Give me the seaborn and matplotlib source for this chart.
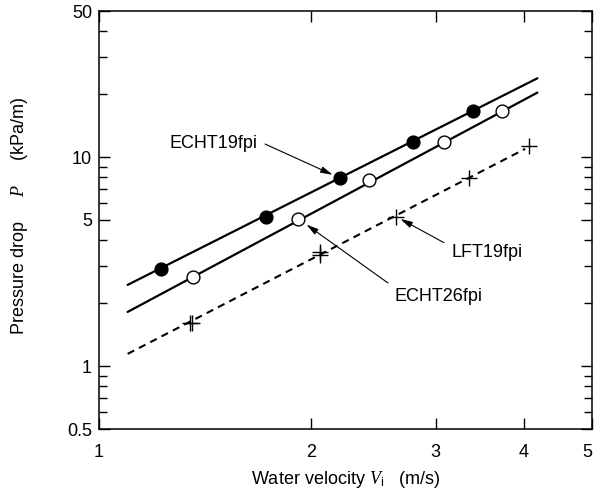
import numpy as np
import pandas as pd
import matplotlib
matplotlib.use("Agg")
import matplotlib.pyplot as plt
from matplotlib.ticker import FixedLocator, NullLocator, FixedFormatter
import seaborn as sns

# ---- data ----
echt19_v = [1.224, 1.724, 2.193, 2.786, 3.393]
echt19_p = [2.90, 5.19, 7.95, 11.87, 16.56]

echt26_v = [1.361, 1.918, 2.418, 3.086, 3.733]
echt26_p = [2.68, 5.06, 7.80, 11.77, 16.56]

lft19_v = [1.346, 1.355, 2.058, 2.058, 2.638, 3.348, 4.074]
lft19_p = [1.615, 1.615, 3.39, 3.51, 5.19, 7.95, 11.26]

# fitted lines (end points)
echt19_fit_v = [1.098, 4.184]
echt19_fit_p = [2.446, 23.83]
echt26_fit_v = [1.098, 4.184]
echt26_fit_p = [1.816, 20.35]
lft19_fit_v = [1.098, 4.02]
lft19_fit_p = [1.144, 10.95]

x_ticks = [1, 2, 3, 4, 5]
x_tick_labels = ["1", "2", "3", "4", "5"]
y_major = [0.5, 1, 5, 10, 50]
y_major_labels = ["0.5", "1", "5", "10", "50"]
y_minor = [0.6, 0.7, 0.8, 0.9, 2, 3, 4, 6, 7, 8, 9, 20, 30, 40]

sns.set_theme(style="ticks")
plt.rcParams["font.family"] = ["Liberation Sans", "DejaVu Sans"]
plt.rcParams["mathtext.fontset"] = "custom"
plt.rcParams["mathtext.it"] = "Liberation Serif:italic"
plt.rcParams["mathtext.rm"] = "Liberation Sans"

fig = plt.figure(figsize=(5.95, 4.98), dpi=100)
ax = fig.add_axes([99 / 595, 69 / 498, 493 / 595, 418 / 498])

FS = 13
ink = "black"

# fit lines
fits = pd.DataFrame({
    "v": echt19_fit_v + echt26_fit_v + lft19_fit_v,
    "p": echt19_fit_p + echt26_fit_p + lft19_fit_p,
    "s": ["ECHT19fpi"] * 2 + ["ECHT26fpi"] * 2 + ["LFT19fpi"] * 2,
})
sns.lineplot(data=fits[fits.s == "ECHT19fpi"], x="v", y="p", color=ink, lw=1.6, ax=ax)
sns.lineplot(data=fits[fits.s == "ECHT26fpi"], x="v", y="p", color=ink, lw=1.6, ax=ax)
sns.lineplot(data=fits[fits.s == "LFT19fpi"], x="v", y="p", color=ink, lw=1.5,
             ax=ax, dashes=False, linestyle=(0, (3.5, 2.6)))

# markers
sns.scatterplot(x=echt19_v, y=echt19_p, marker="o", s=85, color=ink,
                edgecolor=ink, linewidth=1.0, ax=ax, zorder=5)
sns.scatterplot(x=echt26_v, y=echt26_p, marker="o", s=85, color="white",
                edgecolor=ink, linewidth=1.0, ax=ax, zorder=5)
sns.scatterplot(x=lft19_v, y=lft19_p, marker="+", s=120, color=ink,
                linewidth=1.0, ax=ax, zorder=5)

ax.set_xscale("log")
ax.set_yscale("log")
ax.set_xlim(1, 5)
ax.set_ylim(0.5, 50)

ax.xaxis.set_major_locator(FixedLocator(x_ticks))
ax.xaxis.set_major_formatter(FixedFormatter(x_tick_labels))
ax.xaxis.set_minor_locator(NullLocator())
ax.yaxis.set_major_locator(FixedLocator(y_major))
ax.yaxis.set_major_formatter(FixedFormatter(y_major_labels))
ax.yaxis.set_minor_locator(FixedLocator(y_minor))
ax.yaxis.set_minor_formatter(FixedFormatter([""] * len(y_minor)))

ax.tick_params(which="both", direction="in", top=True, right=True,
               color=ink, width=1.0, labelsize=FS, labelcolor=ink)
ax.tick_params(axis="x", which="major", length=8, pad=11)
ax.tick_params(axis="y", which="major", length=8, pad=5)
ax.tick_params(axis="y", which="minor", length=5.5)
for sp in ax.spines.values():
    sp.set_visible(True)
    sp.set_color(ink)
    sp.set_linewidth(1.1)

# keep the last x tick label inside the figure
fig.canvas.draw()
ax.get_xticklabels()[-1].set_horizontalalignment("right")

ax.set_xlabel(r"Water velocity $V_{\mathrm{i}}$   (m/s)", fontsize=FS, color=ink)
ax.xaxis.set_label_coords(0.5, -0.12)
ax.xaxis.label.set_va("center")
ax.set_ylabel(r"Pressure drop     $P$     (kPa/m)", fontsize=FS, color=ink)
ax.yaxis.set_label_coords(-0.162, 0.51)
ax.yaxis.label.set_va("center")

# annotations
aprops = dict(arrowstyle="-|>,head_length=0.6,head_width=0.16", mutation_scale=12,
              lw=0.8, color=ink, shrinkA=0)
ax.text(0.3205, 0.6835, "ECHT19fpi", transform=ax.transAxes, ha="right",
        va="center", fontsize=FS, color=ink)
ax.annotate("", xy=(echt19_v[2], echt19_p[2]), xycoords="data",
            xytext=(0.3367, 0.6818), textcoords="axes fraction",
            arrowprops=dict(aprops, shrinkB=5.4))

ax.text(0.5984, 0.3165, "ECHT26fpi", transform=ax.transAxes, ha="left",
        va="center", fontsize=FS, color=ink)
ax.annotate("", xy=(echt26_v[1], echt26_p[1]), xycoords="data",
            xytext=(0.5862, 0.3493), textcoords="axes fraction",
            arrowprops=dict(aprops, shrinkB=7.0))

ax.text(0.7154, 0.4218, "LFT19fpi", transform=ax.transAxes, ha="left",
        va="center", fontsize=FS, color=ink)
ax.annotate("", xy=(lft19_v[4], lft19_p[4]), xycoords="data",
            xytext=(0.6998, 0.4457), textcoords="axes fraction",
            arrowprops=dict(aprops, shrinkB=3.5))

fig.savefig("out.png", dpi=100, facecolor="white")
